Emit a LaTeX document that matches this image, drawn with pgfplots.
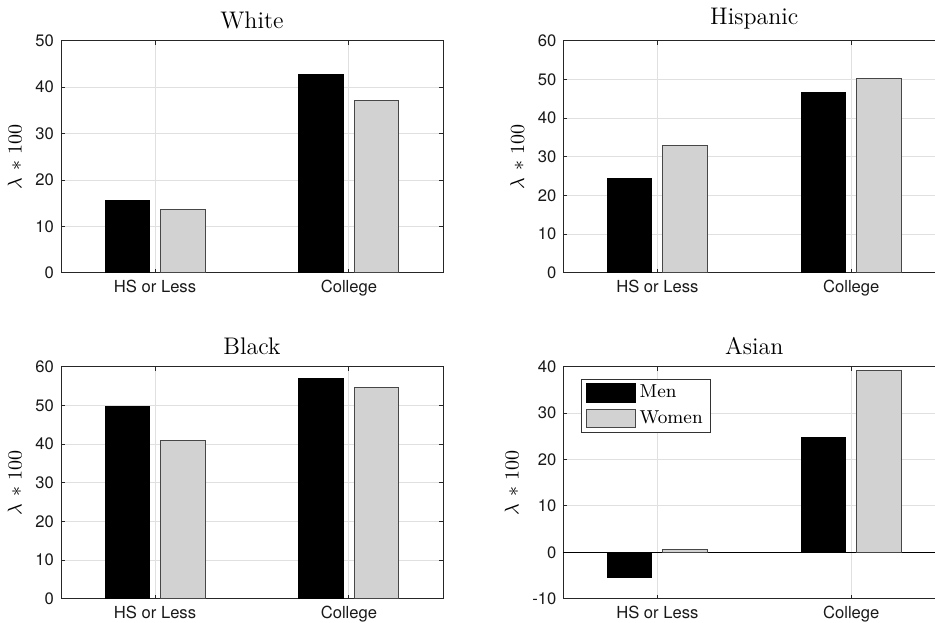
\documentclass[border=0pt]{standalone}
\usepackage{fontspec}
\usepackage{pgfplots}
\pgfplotsset{compat=1.18}
\newfontfamily\heros{TeX Gyre Heros}
\definecolor{wgray}{RGB}{210,210,210}
\definecolor{axgray}{RGB}{38,38,38}

\pgfplotsset{
 panel/.style={
   scale only axis, width=191pt, height=116pt,
   xmin=0.515, xmax=2.485,
   xtick={1,2}, xticklabels={HS or Less, College},
   ybar, bar width=0.23,
   tick pos=both, tick align=inside, major tick length=2pt,
   grid=major, major grid style={black!12, line width=0.5pt},
   axis line style={axgray, line width=0.5pt},
   every tick/.style={axgray, line width=0.5pt},
   tick label style={font=\heros\fontsize{8.3}{9.5}\selectfont, text=black!90},
   /pgf/number format/assume math mode=true,
   title style={font=\fontsize{12}{14}\selectfont, yshift=-3.5pt},
   ylabel={$\lambda \mathbin{\mskip2mu *\mskip2mu} 100$},
   ylabel style={font=\fontsize{9.8}{11}\selectfont},
   yticklabel style={/pgf/number format/fixed},
 },
 men/.style={fill=black, draw=black, line width=0.5pt, bar shift=-0.143},
 women/.style={fill=wgray, draw=black!72, line width=0.5pt, bar shift=0.143},
}

\begin{document}
\begin{tikzpicture}
\path[use as bounding box] (0,0) rectangle (467.5pt,311pt);

\begin{axis}[panel, at={(30.5pt,174.6pt)}, anchor=south west,
  title={White}, ymin=0, ymax=50, ytick={0,10,...,50}]
\addplot[men] coordinates {(1,15.6) (2,42.75)};
\addplot[women] coordinates {(1,13.75) (2,37.2)};
\end{axis}

\begin{axis}[panel, at={(281.65pt,174.6pt)}, anchor=south west,
  title={Hispanic}, ymin=0, ymax=60, ytick={0,10,...,60}]
\addplot[men] coordinates {(1,24.3) (2,46.6)};
\addplot[women] coordinates {(1,33.0) (2,50.25)};
\end{axis}

\begin{axis}[panel, at={(30.5pt,11.65pt)}, anchor=south west,
  title={Black}, ymin=0, ymax=60, ytick={0,10,...,60}]
\addplot[men] coordinates {(1,49.8) (2,56.9)};
\addplot[women] coordinates {(1,40.95) (2,54.7)};
\end{axis}

\begin{axis}[panel, at={(281.65pt,11.65pt)}, anchor=south west,
  title={Asian}, ymin=-10, ymax=40, ytick={-10,0,...,40},
  extra y ticks={0}, extra y tick labels={},
  extra y tick style={grid=major, major grid style={black, line width=0.5pt}, major tick length=0pt},
  legend entries={Men, Women},
  legend image code/.code={\draw[#1] (0pt,-4.6pt) rectangle (24.5pt,4.6pt);},
  legend cell align=left,
  legend style={at={(0.0463,0.947)}, anchor=north west, draw=black!80, line width=0.5pt,
    font=\fontsize{9.35}{11}\selectfont, inner xsep=2.5pt, inner ysep=1.8pt,
    nodes={inner xsep=1.6pt, inner ysep=1pt}, row sep=3pt},
  ]
\addplot[men] coordinates {(1,-5.47) (2,24.8)};
\addplot[women] coordinates {(1,0.5) (2,39.1)};
\end{axis}
\end{tikzpicture}
\end{document}
